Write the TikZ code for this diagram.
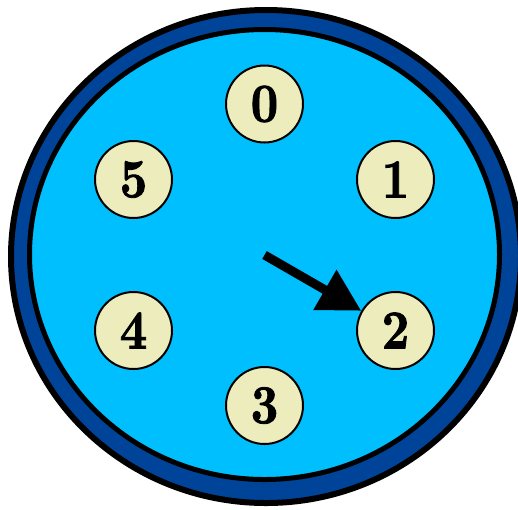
\documentclass[tikz,border=0pt]{standalone}
\usepackage{fontspec}
\usetikzlibrary{arrows.meta}
\newfontfamily\digfont{lmroman10-bold.otf}[FakeStretch=0.87,FakeBold=1.5]
\definecolor{ringblue}{RGB}{0,68,153}
\definecolor{faceblue}{RGB}{0,191,255}
\definecolor{nodefill}{RGB}{236,236,188}
\begin{document}
\begin{tikzpicture}[x=1pt,y=-1pt,
  numnode/.style={circle,draw=black,line width=2pt,fill=nodefill,minimum size=77pt,inner sep=0pt,font=\digfont\fontsize{55}{60}\selectfont},
  pointer/.style={line width=9pt,-{Triangle[length=42pt,width=44pt]}}]
\useasboundingbox (0,0) rectangle (518,509);
\clip (0,0) rectangle (518,509);
\draw[line width=6pt,fill=ringblue] (266,256.5) ellipse [x radius=255pt, y radius=246.5pt];
\draw[line width=5pt,fill=faceblue] (264.5,254.5) ellipse [x radius=235pt, y radius=225pt];
\coordinate (c) at (264.5,255);
\node[numnode] (n0) at (264.5,104) {0};
\node[numnode] (n1) at (395.5,179.5) {1};
\node[numnode] (n2) at (395.5,330.5) {2};
\node[numnode] (n3) at (264.5,405.5) {3};
\node[numnode] (n4) at (133.5,330.5) {4};
\node[numnode] (n5) at (133.5,179.5) {5};
\draw[pointer] (c) -- (n2);
\end{tikzpicture}
\end{document}
